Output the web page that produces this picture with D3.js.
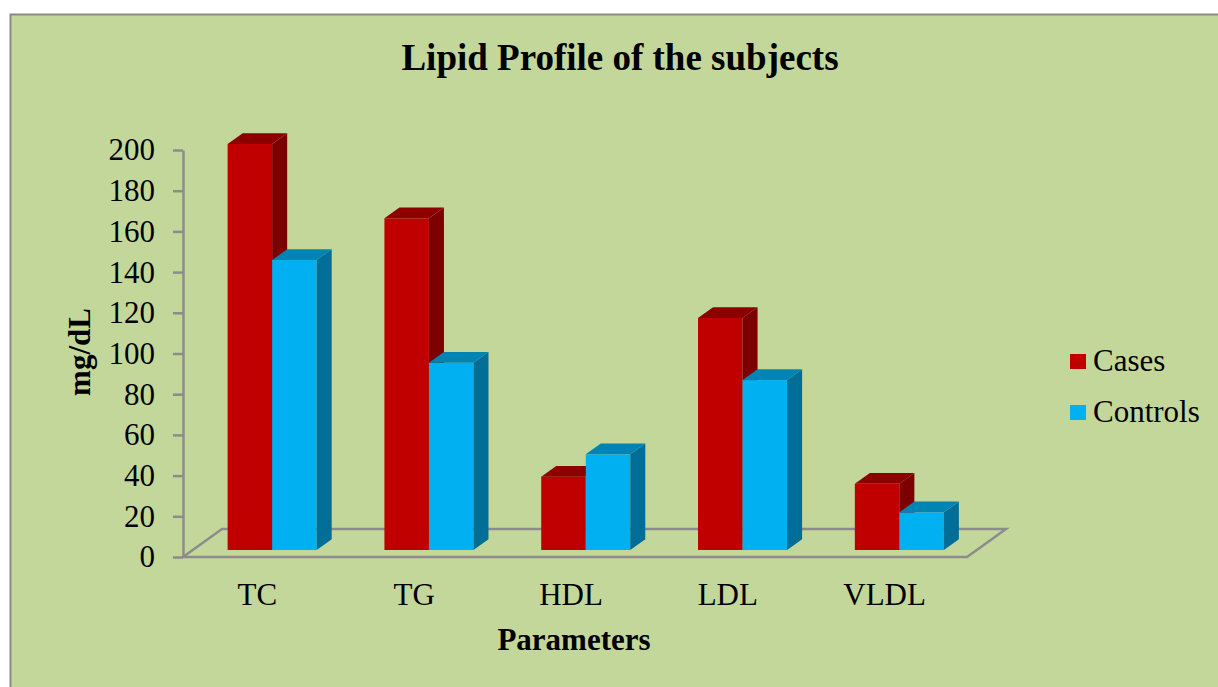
<!DOCTYPE html>
<html>
<head>
<meta charset="utf-8">
<script src="https://cdn.jsdelivr.net/npm/d3@7"></script>
<style>
  html, body { margin: 0; padding: 0; background: #ffffff; }
  svg { display: block; }
  text { font-family: "Liberation Serif", "Times New Roman", serif; fill: #000; }
</style>
</head>
<body>
<svg id="chart" width="1218" height="687"></svg>
<script>
// ---- data ----
const categories = ["TC", "TG", "HDL", "LDL", "VLDL"];
const seriesNames = ["Cases", "Controls"];
const cases = [199.5, 163, 36, 114, 32.5];
const controls = [142.5, 92, 47, 83.5, 18.5];
const yTicks = [0, 20, 40, 60, 80, 100, 120, 140, 160, 180, 200];
const title = "Lipid Profile of the subjects";
const xTitle = "Parameters";
const yTitle = "mg/dL";

// ---- style / layout ----
const colors = {
  Cases:    { front: "#C00000", side: "#7C0000", top: "#8E0000" },
  Controls: { front: "#00B0F0", side: "#006E96", top: "#0084B4" }
};
const bg = "#C4D79B";
const lineCol = "#8C8C8C";

const svg = d3.select("#chart");
const W = 1218, H = 687;

// background panel with border
svg.append("rect").attr("x", 10.5).attr("y", 14.5).attr("width", W).attr("height", H)
  .attr("fill", bg).attr("stroke", "#8A8A8A").attr("stroke-width", 2);

const x0 = 183, x1 = 967;       // front floor edge
const depth = [39, -28];       // floor depth vector
const barDepthStart = 0.25, barDepthFrac = 0.385;

const y = d3.scaleLinear().domain([0, 200]).range([557, 150]);
const xBand = d3.scaleBand().domain(categories).range([x0, x1]);
const groupFrac = 0.568;
const xSub = d3.scaleBand().domain(seriesNames).range([0, xBand.bandwidth() * groupFrac]);

// floor outline
const floorPts = [
  [x0, y(0)], [x1, y(0)], [x1 + depth[0], y(0) + depth[1]], [x0 + depth[0], y(0) + depth[1]]
];
svg.append("polygon").attr("points", floorPts.map(p => p.join(",")).join(" "))
  .attr("fill", "none").attr("stroke", lineCol).attr("stroke-width", 2.5)
  .attr("stroke-linejoin", "miter");

// y axis
const yAxis = d3.axisLeft(y).tickValues(yTicks).tickSize(10).tickPadding(18).tickSizeOuter(0);
const gy = svg.append("g").attr("transform", `translate(${x0},0)`).call(yAxis);
gy.select(".domain").attr("stroke", lineCol).attr("stroke-width", 2.5);
gy.selectAll(".tick line").attr("stroke", lineCol).attr("stroke-width", 2.5);
gy.selectAll(".tick text").attr("font-family", "Liberation Serif").attr("font-size", 31).attr("fill", "#000");

// bars
const bdx = depth[0] * barDepthFrac, bdy = depth[1] * barDepthFrac;
const offX = depth[0] * barDepthStart, offY = depth[1] * barDepthStart;
const rows = [];
categories.forEach((c, i) => {
  rows.push({ cat: c, s: "Cases", v: cases[i] });
  rows.push({ cat: c, s: "Controls", v: controls[i] });
});
const groupOffset = (xBand.bandwidth() - xSub.range()[1]) / 2;
const gBars = svg.append("g");
rows.forEach(d => {
  const bx = xBand(d.cat) + groupOffset + xSub(d.s) + offX + 1;
  const bw = xSub.bandwidth();
  const yb = y(0) + offY;
  const yt = y(d.v) + offY;
  const col = colors[d.s];
  const g = gBars.append("g");
  g.append("rect").attr("x", bx).attr("y", yt).attr("width", bw).attr("height", yb - yt)
    .attr("fill", col.front);
  g.append("polygon").attr("points", [
    [bx + bw, yb], [bx + bw, yt], [bx + bw + bdx, yt + bdy], [bx + bw + bdx, yb + bdy]
  ].map(p => p.join(",")).join(" ")).attr("fill", col.side);
  g.append("polygon").attr("points", [
    [bx, yt], [bx + bw, yt], [bx + bw + bdx, yt + bdy], [bx + bdx, yt + bdy]
  ].map(p => p.join(",")).join(" ")).attr("fill", col.top);
});

// category labels
svg.append("g").selectAll("text").data(categories).join("text")
  .attr("x", d => xBand(d) + xBand.bandwidth() / 2 - 4)
  .attr("y", 605)
  .attr("text-anchor", "middle")
  .attr("font-size", 31)
  .text(d => d);

// titles
svg.append("text").attr("x", 620).attr("y", 70).attr("text-anchor", "middle")
  .attr("font-size", 37).attr("font-weight", "bold").text(title);
svg.append("text").attr("x", 574).attr("y", 650).attr("text-anchor", "middle")
  .attr("font-size", 31).attr("font-weight", "bold").text(xTitle);
svg.append("text").attr("transform", "translate(90,352) rotate(-90)").attr("text-anchor", "middle")
  .attr("font-size", 31).attr("font-weight", "bold").text(yTitle);

// legend
const lg = svg.append("g").selectAll("g").data(seriesNames).join("g")
  .attr("transform", (d, i) => `translate(1070,${354 + i * 51})`);
lg.append("rect").attr("width", 16).attr("height", 15).attr("fill", d => colors[d].front);
lg.append("text").attr("x", 23).attr("y", 17).attr("font-size", 31).text(d => d);
</script>
</body>
</html>
